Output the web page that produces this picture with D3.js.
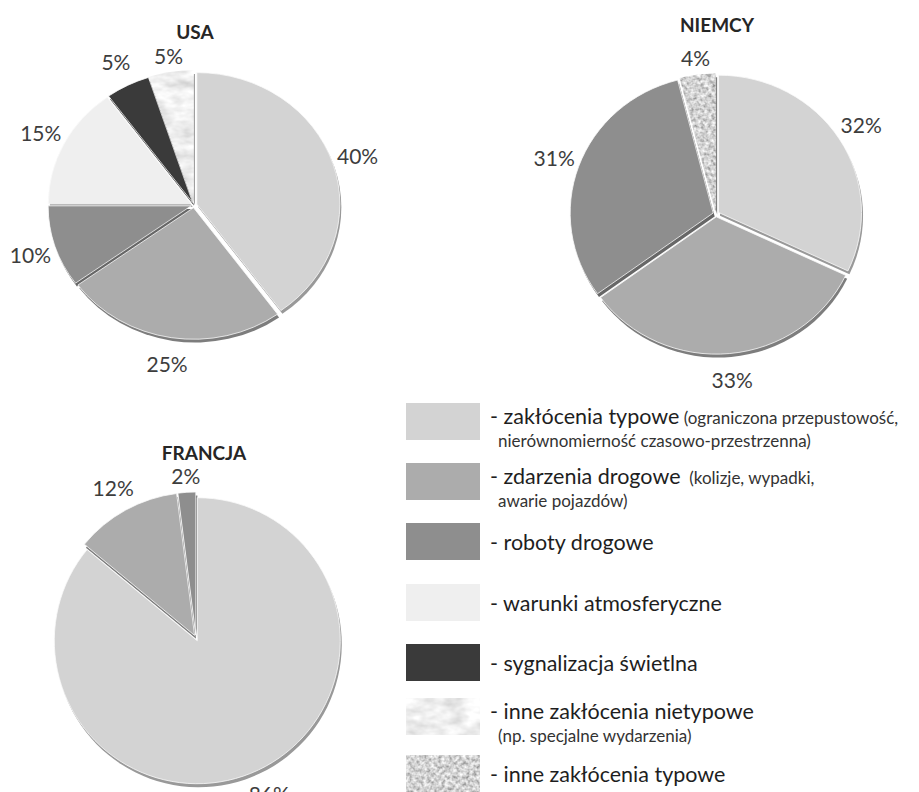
<!DOCTYPE html>
<html>
<head>
<meta charset="utf-8">
<script src="https://cdn.jsdelivr.net/npm/d3@7"></script>
<style>
  body { margin: 0; background: #fff; }
  text { font-family: Lato, "Open Sans", sans-serif; }
</style>
</head>
<body>
<script>
// categories in legend order
const categories = [
  "- zakłócenia typowe",
  "- zdarzenia drogowe",
  "- roboty drogowe",
  "- warunki atmosferyczne",
  "- sygnalizacja świetlna",
  "- inne zakłócenia nietypowe",
  "- inne zakłócenia typowe"
];
const legendNotes = ["(ograniczona przepustowość,", "(kolizje, wypadki,", "", "", "", "", ""];
const legendNotes2 = ["nierównomierność czasowo-przestrzenna)", "awarie pojazdów)", "", "", "", "(np. specjalne wydarzenia)", ""];

// percentages per country, same order as categories
const usaValues = [40, 25, 10, 15, 5, 5, 0];
const niemcyValues = [32, 33, 31, 0, 0, 0, 4];
const francjaValues = [86, 12, 2, 0, 0, 0, 0];

const sliceColors = ["#d3d3d3", "#acacac", "#8e8e8e", "#efefef", "#3a3a3a", "#dadada", "#a3a3a3"];
const sliceFilters = [null, null, null, null, null, "url(#marble)", "url(#speckle)"];

const width = 919, height = 792;
const radius = 143;
const explode = 3;

const svg = d3.select("body").append("svg")
    .attr("width", width)
    .attr("height", height);

// textures
const defs = svg.append("defs");
const marble = defs.append("filter").attr("id", "marble")
    .attr("x", "-10%").attr("y", "-10%").attr("width", "120%").attr("height", "120%");
marble.append("feTurbulence")
    .attr("type", "fractalNoise").attr("baseFrequency", "0.05 0.09")
    .attr("numOctaves", 3).attr("seed", 4).attr("result", "noise");
marble.append("feColorMatrix").attr("in", "noise").attr("type", "matrix")
    .attr("values", "0.6 0 0 0 0.57  0.6 0 0 0 0.57  0.6 0 0 0 0.57  0 0 0 0 1")
    .attr("result", "gray");
marble.append("feComposite").attr("in", "gray").attr("in2", "SourceGraphic").attr("operator", "in");

const speckle = defs.append("filter").attr("id", "speckle")
    .attr("x", "-10%").attr("y", "-10%").attr("width", "120%").attr("height", "120%");
speckle.append("feTurbulence")
    .attr("type", "fractalNoise").attr("baseFrequency", "0.28")
    .attr("numOctaves", 2).attr("seed", 7).attr("result", "noise");
speckle.append("feColorMatrix").attr("in", "noise").attr("type", "matrix")
    .attr("values", "1.1 0 0 0 0.1  1.1 0 0 0 0.1  1.1 0 0 0 0.1  0 0 0 0 1")
    .attr("result", "gray");
speckle.append("feComposite").attr("in", "gray").attr("in2", "SourceGraphic").attr("operator", "in");

function drawPie(title, values, cx, cy, tilt, titleX, titleY) {
  const data = categories.map((c, i) => ({cat: c, i: i, value: values[i]}))
      .filter(d => d.value > 0);
  const arcs = d3.pie().sort(null).value(d => d.value)(data);
  const arc = d3.arc().innerRadius(0).outerRadius(radius);

  const g = svg.append("g").attr("transform", "translate(" + cx + "," + cy + ")");
  const slices = g.append("g").attr("transform", "scale(1," + tilt + ")");

  function shift(d) {
    const a = (d.startAngle + d.endAngle) / 2;
    return [Math.sin(a) * explode, -Math.cos(a) * explode];
  }

  // bevel / shadow under each slice
  slices.selectAll("path.shadow")
      .data(arcs)
      .enter()
      .append("path")
      .attr("class", "shadow")
      .attr("d", arc)
      .attr("fill", d => d3.color(sliceColors[d.data.i]).darker(0.9))
      .attr("transform", d => {
        const o = shift(d);
        return "translate(" + (o[0] + 1.5) + "," + (o[1] + 3.5) + ")";
      });

  slices.selectAll("path.slice")
      .data(arcs)
      .enter()
      .append("path")
      .attr("class", "slice")
      .attr("d", arc)
      .attr("fill", d => sliceColors[d.data.i])
      .attr("filter", d => sliceFilters[d.data.i])
      .attr("stroke", "#fafafa")
      .attr("stroke-width", 0.8)
      .attr("transform", d => {
        const o = shift(d);
        return "translate(" + o[0] + "," + o[1] + ")";
      });

  // labels outside the rim, a bit closer for slices near 12 o'clock
  function labelPos(d) {
    const a = (d.startAngle + d.endAngle) / 2;
    const nearTop = a > Math.PI * 2 - 0.26 || a < 0.26;
    const off = nearTop ? 20 : 29;
    return [Math.sin(a) * (radius + off), -Math.cos(a) * (radius * tilt + off)];
  }

  g.selectAll("text.pct")
      .data(arcs)
      .enter()
      .append("text")
      .attr("class", "pct")
      .attr("x", d => labelPos(d)[0])
      .attr("y", d => labelPos(d)[1])
      .attr("text-anchor", "middle")
      .attr("dominant-baseline", "central")
      .attr("font-size", 21)
      .attr("fill", "#3d3d3d")
      .text(d => d.data.value + "%");

  svg.append("text")
      .attr("x", titleX)
      .attr("y", titleY)
      .attr("text-anchor", "middle")
      .attr("dominant-baseline", "central")
      .attr("font-size", 19)
      .attr("font-weight", "bold")
      .attr("fill", "#262626")
      .text(title);
}

drawPie("USA", usaValues, 194, 205, 0.92, 195, 31);
drawPie("NIEMCY", niemcyValues, 716, 214, 0.96, 717, 24);
drawPie("FRANCJA", francjaValues, 196, 638, 1, 204, 452);

// legend
const legendTops = [403, 463, 523, 584, 644, 698, 755];
const legend = svg.append("g");
const rows = legend.selectAll("g.row")
    .data(categories)
    .enter()
    .append("g")
    .attr("class", "row")
    .attr("transform", (d, i) => "translate(406," + legendTops[i] + ")");

rows.append("rect")
    .attr("width", 74)
    .attr("height", 37)
    .attr("fill", (d, i) => sliceColors[i])
    .attr("filter", (d, i) => sliceFilters[i]);

rows.append("text")
    .attr("x", 84)
    .attr("y", (d, i) => legendNotes2[i] ? 21 : 27)
    .attr("font-size", 21.5)
    .attr("fill", "#1e1e1e")
    .text(d => d)
    .append("tspan")
    .attr("font-size", 17)
    .attr("fill", "#333")
    .text((d, i) => legendNotes[i] ? (i === 1 ? "\u00a0\u00a0" : " ") + legendNotes[i] : "");

rows.append("text")
    .attr("x", 92)
    .attr("y", 44)
    .attr("font-size", 17)
    .attr("fill", "#333")
    .text((d, i) => legendNotes2[i]);
</script>
</body>
</html>
